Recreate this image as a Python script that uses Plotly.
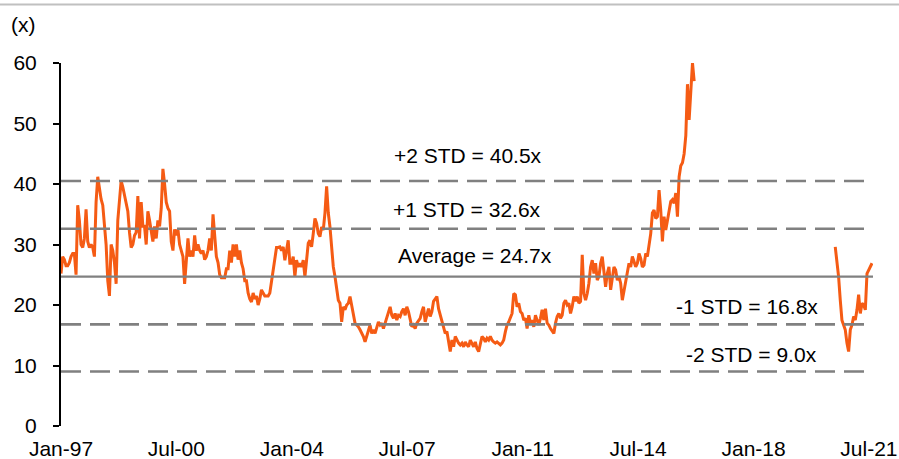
import numpy as np
import pandas as pd
import plotly.graph_objects as go

# ---- data ----
SEG1_START = "1997-01-01"
SEG2_START = "2020-06-23"
STEP_DAYS = 18.5

seg1_values = [
    25.2, 28.0, 27.5, 26.5, 26.5, 27.0, 28.0, 28.5, 28.5, 25.0,
    36.5, 34.0, 30.0, 29.5, 31.0, 35.8, 30.5, 29.5, 30.0, 29.5,
    28.0, 37.0, 41.2, 39.0, 37.5, 36.5, 33.0, 30.0, 24.0, 21.5,
    30.0, 29.0, 27.0, 23.5, 34.0, 37.5, 40.5, 39.5, 38.0, 36.5,
    35.5, 32.0, 29.5, 30.0, 31.5, 32.0, 38.0, 31.0, 37.0, 33.0,
    33.0, 30.0, 35.5, 34.0, 32.0, 30.5, 33.0, 31.0, 34.0, 33.0,
    36.0, 42.5, 40.0, 37.0, 36.0, 35.5, 30.5, 29.0, 32.5, 31.5,
    32.5, 30.0, 29.0, 28.0, 23.5, 27.0, 31.0, 28.0, 29.0, 28.0,
    31.5, 29.0, 30.0, 29.0, 28.5, 29.0, 27.5, 28.0, 29.0, 31.0,
    29.0, 35.0, 32.0, 28.0, 27.0, 25.0, 24.5, 24.5, 24.5, 26.0,
    26.0, 29.0, 27.0, 30.0, 28.0, 30.0, 27.5, 29.0, 27.0, 26.0,
    24.0, 24.0, 22.0, 21.0, 20.5, 22.0, 21.0, 21.5, 20.0, 21.0,
    22.5, 22.0, 21.5, 21.5, 21.5, 22.0, 24.0, 26.0, 27.5, 29.5, 29.5,
    # 2003.6 onwards
    29.6, 29.0, 29.6, 27.4, 29.1, 30.7, 26.9, 26.9, 28.0, 24.7,
    27.4, 26.3, 26.9, 26.3, 27.4, 24.7, 27.4, 30.2, 30.7, 29.6,
    31.8, 34.3, 33.5, 31.8, 31.3, 32.9, 32.4, 35.2, 39.6, 35.2,
    32.9, 29.6, 26.3, 24.7, 22.5, 20.8, 20.3, 17.2, 19.7, 19.2,
    20.0, 20.3, 21.4, 19.7, 18.1, 17.0, 16.7, 16.4, 15.9, 15.3,
    14.8, 13.9, 14.8, 16.1, 16.7, 15.3, 15.9, 15.3, 16.1, 17.2,
    16.7, 17.0, 16.1, 17.0, 17.5, 18.6, 19.7, 18.3, 17.8, 18.6,
    17.5, 18.3, 18.1, 18.9, 19.4, 18.3, 19.7, 18.9, 17.5, 16.4,
    16.7, 16.1, 17.0, 17.5, 17.8, 18.9, 19.7, 17.2, 18.3, 19.4,
    18.1, 18.9, 20.6, 21.1, 21.4, 19.4, 18.3, 17.5, 16.1, 15.3,
    15.6, 14.2, 12.3, 14.2, 13.1, 14.8, 14.2, 13.7, 13.4, 13.7,
    13.1, 13.9, 13.4, 13.1, 14.2, 13.7, 13.1, 13.9, 12.8, 12.3,
    13.7, 14.8, 14.5, 13.9, 14.5, 14.2, 14.8, 14.2, 13.9, 13.7,
    13.9, 13.7, 13.4, 13.7, 14.2, 15.6, 16.7, 17.2, 17.8, 18.6,
    21.9, 21.7, 19.7, 20.3, 18.9, 18.6, 17.5, 17.8, 16.1, 18.3,
    17.0, 17.5, 16.4, 18.3, 17.5, 16.7, 17.8, 19.2, 17.5, 19.4,
    17.0, 16.7, 16.1, 15.6, 15.3, 17.0, 18.1, 18.6, 17.8, 18.3,
    20.3, 20.8, 20.0, 20.3, 18.6, 19.7, 21.4, 20.6, 21.4, 20.3,
    20.6, 28.3, 21.9, 20.8, 21.9, 23.6, 26.3, 27.4, 25.2, 26.9,
    24.1, 24.7, 26.9,
    # 2014 onwards
    28.0, 25.2, 23.0, 25.2, 26.3, 22.5, 24.7, 26.3, 25.8, 24.1,
    24.7, 23.6, 20.8, 22.5, 24.1, 25.8, 26.9, 26.3, 28.0, 27.2,
    26.3, 26.9, 28.5, 27.7, 26.3, 26.6, 28.5, 28.0, 29.6, 31.8,
    35.2, 35.7, 34.3, 34.6, 39.0, 35.7, 30.5, 34.6, 32.4, 34.1,
    35.2, 37.1, 37.4, 36.8, 38.5, 34.6, 41.2, 43.0, 43.5, 45.0,
    48.0, 56.5, 50.6, 54.5, 60.0, 57.0,
]

seg2_values = [
    29.6, 27.4, 24.7, 20.8, 17.5, 16.7, 15.9, 13.7, 12.3, 15.9,
    16.7, 18.1, 17.5, 19.2, 21.7, 18.6, 20.3, 20.0, 19.2, 25.2,
    25.8, 26.3, 26.9,
]

std_levels = [40.5, 32.6, 24.7, 16.8, 9.0]
std_labels = ["+2 STD = 40.5x", "+1 STD = 32.6x", "Average = 24.7x",
              "-1 STD = 16.8x", "-2 STD = 9.0x"]

tick_dates = ["1997-01-01", "2000-07-01", "2004-01-01", "2007-07-01",
              "2011-01-01", "2014-07-01", "2018-01-01", "2021-07-01"]
tick_text = ["Jan-97", "Jul-00", "Jan-04", "Jul-07",
             "Jan-11", "Jul-14", "Jan-18", "Jul-21"]

y_ticks = [0, 10, 20, 30, 40, 50, 60]

# ---- build ----
def dates_for(start, n):
    return list(pd.Timestamp(start) + pd.to_timedelta(np.arange(n) * STEP_DAYS, unit="D"))

x1 = dates_for(SEG1_START, len(seg1_values))
x2 = dates_for(SEG2_START, len(seg2_values))
xs = x1 + [None] + x2
ys = seg1_values + [None] + seg2_values

ORANGE = "#F55B14"
GRAY = "#808080"
FONT = "Arial, Liberation Sans, sans-serif"

fig = go.Figure()
fig.add_trace(go.Scatter(x=xs, y=ys, mode="lines", connectgaps=False,
                         line=dict(color=ORANGE, width=3), showlegend=False,
                         hoverinfo="skip"))

for lvl in std_levels:
    is_avg = abs(lvl - 24.7) < 1e-9
    fig.add_shape(type="line", xref="paper", x0=0, x1=1, yref="y", y0=lvl, y1=lvl,
                  line=dict(color=GRAY, width=2.2 if is_avg else 2.6,
                            dash="solid" if is_avg else "20px,9px"),
                  layer="above")

# label positions (paper coords)
label_pos = [(0.501, 0.745), (0.500, 0.596), (0.510, 0.470),
             (0.845, 0.330), (0.850, 0.197)]
for (px, py), txt in zip(label_pos, std_labels):
    fig.add_annotation(text=txt, xref="paper", yref="paper", x=px, y=py,
                       showarrow=False, xanchor="center", yanchor="middle",
                       font=dict(size=21, color="black", family=FONT))

fig.add_annotation(text="(x)", xref="paper", yref="paper", x=-0.0456, y=1.105,
                   showarrow=False, xanchor="center", yanchor="middle",
                   font=dict(size=21, color="black", family=FONT))

# top border line of the image
fig.add_shape(type="line", xref="paper", yref="paper",
              x0=-61 / 812, x1=(899 - 61) / 812, y0=(426 - 4.5) / 363, y1=(426 - 4.5) / 363,
              line=dict(color="#C0C0C0", width=2), layer="above")

fig.update_layout(
    width=899, height=459,
    margin=dict(l=61, r=26, t=63, b=33, pad=0),
    paper_bgcolor="white", plot_bgcolor="white",
    font=dict(family=FONT, size=21, color="black"),
    showlegend=False,
    xaxis=dict(type="date", range=["1997-01-01", "2021-08-15"],
               tickmode="array", tickvals=tick_dates, ticktext=tick_text,
               showgrid=False, zeroline=False, showline=False, ticks="",
               ticklabelstandoff=8, automargin=False,
               tickfont=dict(size=21, color="black", family=FONT)),
    yaxis=dict(range=[0, 60], tickmode="array", tickvals=y_ticks,
               showgrid=False, zeroline=False, showline=True,
               linecolor="black", linewidth=2, ticks="outside",
               tickcolor="black", tickwidth=2, ticklen=6,
               ticklabelstandoff=12, automargin=False,
               tickfont=dict(size=21, color="black", family=FONT)),
)

fig.write_html("out.html", config={"displayModeBar": False},
               post_script="document.body.style.margin='0px';document.body.style.overflow='hidden';")
